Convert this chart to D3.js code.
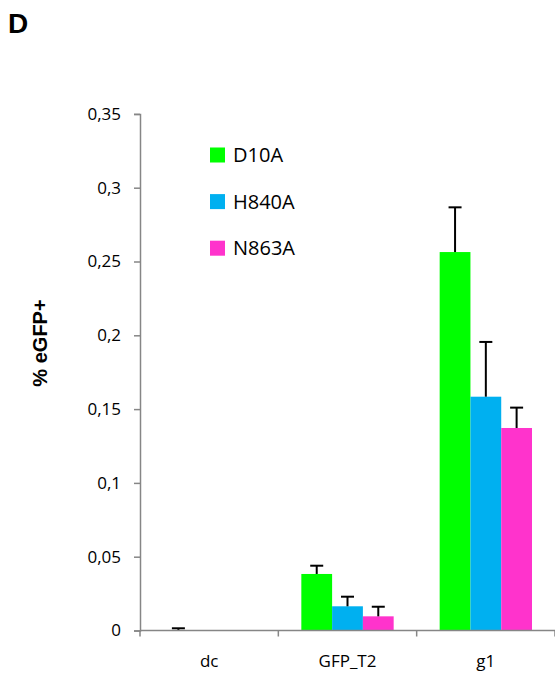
<!DOCTYPE html>
<html>
<head>
<meta charset="utf-8">
<script src="https://cdn.jsdelivr.net/npm/d3@7"></script>
<style>
  body { margin: 0; background: #fff; }
  svg { display: block; font-family: "Open Sans", "Liberation Sans", sans-serif; }
</style>
</head>
<body>
<script>
var categories = ["dc", "GFP_T2", "g1"];
var series = ["D10A", "H840A", "N863A"];
var colors = ["#00ff00", "#00b0f0", "#ff33cc"];
// values[series][category]
var values = [
  [0.0003, 0.0383, 0.2564],
  [0, 0.0164, 0.1584],
  [0, 0.0096, 0.1372]
];
var errors = [
  [0.0012, 0.0056, 0.0303],
  [0, 0.0065, 0.0371],
  [0, 0.0065, 0.0138]
];
var yTicks = [0, 0.05, 0.1, 0.15, 0.2, 0.25, 0.3, 0.35];

var width = 555, height = 673;
var svg = d3.select("body").append("svg")
  .attr("width", width)
  .attr("height", height);

svg.append("text")
  .attr("x", 8)
  .attr("y", 33)
  .attr("font-family", "Liberation Sans, Arial, sans-serif")
  .attr("font-weight", "bold")
  .attr("font-size", 28)
  .text("D");

var x0 = d3.scaleBand().domain(categories).range([140, 555]).paddingInner(0).paddingOuter(0);
var x1 = d3.scaleBand().domain(series).range([23, x0.bandwidth() - 23]);
var y = d3.scaleLinear().domain([0, 0.35]).range([630.5, 113.9]);

var fmt = function (d) { return String(d).replace(".", ","); };

// y axis
var yAxis = svg.append("g")
  .attr("transform", "translate(140,0)")
  .call(d3.axisLeft(y).tickValues(yTicks).tickFormat(fmt).tickSize(6).tickPadding(13));
yAxis.select(".domain").attr("stroke", "#868686").attr("stroke-width", 1.5);
yAxis.selectAll(".tick line").attr("stroke", "#868686").attr("stroke-width", 1.5);
yAxis.selectAll(".tick text").attr("font-size", 17).attr("fill", "#000")
  .attr("font-family", "Open Sans, sans-serif");

svg.append("text")
  .attr("transform", "translate(47,343) rotate(-90)")
  .attr("text-anchor", "middle")
  .attr("font-weight", "bold")
  .attr("font-size", 20)
  .attr("font-family", "Liberation Sans, Arial, sans-serif")
  .text("% eGFP+");

// bars
var groups = svg.selectAll(".grp")
  .data(categories)
  .enter().append("g")
  .attr("transform", function (d) { return "translate(" + x0(d) + ",0)"; });

groups.each(function (cat, ci) {
  var g = d3.select(this);
  series.forEach(function (s, si) {
    var v = values[si][ci], e = errors[si][ci];
    if (v > 0) {
      g.append("rect")
        .attr("x", x1(s))
        .attr("width", x1.bandwidth())
        .attr("y", y(v))
        .attr("height", y(0) - y(v))
        .attr("fill", colors[si]);
    }
    if (e > 0) {
      var cx = x1(s) + x1.bandwidth() / 2;
      g.append("line")
        .attr("x1", cx).attr("x2", cx)
        .attr("y1", y(v)).attr("y2", y(v + e))
        .attr("stroke", "#000").attr("stroke-width", 2);
      g.append("line")
        .attr("x1", cx - 6.5).attr("x2", cx + 6.5)
        .attr("y1", y(v + e)).attr("y2", y(v + e))
        .attr("stroke", "#000").attr("stroke-width", 2);
    }
  });
});

// x axis
var xAxis = svg.append("g")
  .attr("transform", "translate(0," + y(0) + ")");
xAxis.append("line")
  .attr("x1", 140).attr("x2", 555)
  .attr("stroke", "#868686").attr("stroke-width", 1.5);
var bounds = categories.map(function (c) { return x0(c); }).concat([x0(categories[2]) + x0.bandwidth()]);
xAxis.selectAll(".xt")
  .data(bounds)
  .enter().append("line")
  .attr("x1", function (d) { return d; })
  .attr("x2", function (d) { return d; })
  .attr("y1", 0).attr("y2", 6)
  .attr("stroke", "#868686").attr("stroke-width", 1.5);
xAxis.selectAll(".xl")
  .data(categories)
  .enter().append("text")
  .attr("x", function (d) { return x0(d) + x0.bandwidth() / 2; })
  .attr("y", 36.5)
  .attr("text-anchor", "middle")
  .attr("font-size", 17)
  .text(function (d) { return d; });

// legend
var legend = svg.selectAll(".leg")
  .data(series)
  .enter().append("g")
  .attr("transform", function (d, i) { return "translate(210," + (155 + i * 46.6) + ")"; });
legend.append("rect")
  .attr("x", 0).attr("y", -7.5)
  .attr("width", 15).attr("height", 15)
  .attr("fill", function (d, i) { return colors[i]; });
legend.append("text")
  .attr("x", 23)
  .attr("y", 7)
  .attr("font-size", 20)
  .text(function (d) { return d; });
</script>
</body>
</html>
